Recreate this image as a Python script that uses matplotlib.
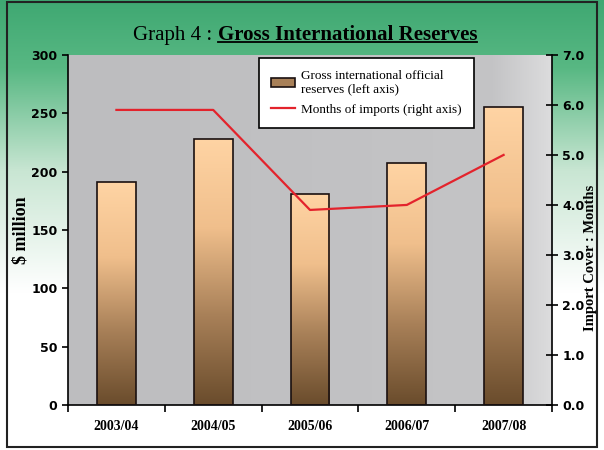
import numpy as np
import matplotlib
matplotlib.use("Agg")
import matplotlib.pyplot as plt
from matplotlib.colors import LinearSegmentedColormap
from matplotlib.patches import Rectangle
from matplotlib.lines import Line2D

# Data
years = ["2003/04", "2004/05", "2005/06", "2006/07", "2007/08"]
reserves = [191, 228, 181, 207, 255]          # $ million (left axis)
months_cover = [5.9, 5.9, 3.9, 4.0, 5.0]      # months of imports (right axis)

serif = "Liberation Serif"

fig = plt.figure(figsize=(6.04, 4.5), dpi=100)

# Figure background: green fading to white, with a dark frame
bg = fig.add_axes([0, 0, 1, 1], zorder=-10)
bg_cmap = LinearSegmentedColormap.from_list(
    "bg", [(0, "#ffffff"), (0.35, "#ffffff"), (0.62, "#c9e6d3"), (0.85, "#58b883"), (1.0, "#3fa872")])
grad = np.linspace(0, 1, 256).reshape(-1, 1)
bg.imshow(grad, cmap=bg_cmap, aspect="auto", origin="lower", extent=[0, 1, 0, 1])
bg.add_patch(Rectangle((0.012, 0.006), 0.976, 0.99, fill=False, lw=1.5,
                       ec="#222222", transform=bg.transAxes))
bg.set_xlim(0, 1)
bg.set_ylim(0, 1)
bg.axis("off")

ax = fig.add_axes([0.1126, 0.1, 0.8013, 0.778])
ax.set_facecolor("none")
x = np.arange(len(years))

# Plot area: grey with a lighter band at the right
area_cmap = LinearSegmentedColormap.from_list(
    "area", [(0, "#bdbdbf"), (0.88, "#c4c4c6"), (1.0, "#dcdcdd")])
ax.imshow(np.linspace(0, 1, 256).reshape(1, -1), cmap=area_cmap, aspect="auto",
          extent=[-0.5, 4.5, 0, 300], zorder=0)

# Bars with a peach-to-brown vertical gradient
bar_cmap = LinearSegmentedColormap.from_list("bar", ["#6a4c2c", "#a88058", "#f0bf8c", "#ffd4a4"])
bars = ax.bar(x, reserves, width=0.4, color="none", edgecolor="#1a1010", lw=1.2, zorder=3)
for b in bars:
    x0, w, h = b.get_x(), b.get_width(), b.get_height()
    im = ax.imshow(np.linspace(0, 1, 256).reshape(-1, 1), cmap=bar_cmap, aspect="auto",
                   origin="lower", extent=[x0, x0 + w, 0, h], zorder=2)
    im.set_clip_path(b)

ax.set_xlim(-0.5, 4.5)
ax.set_ylim(0, 300)
ax.set_yticks(np.arange(0, 301, 50))
ax.set_xticks(np.arange(-0.5, 4.6, 1))
ax.set_xticklabels([])
ax.set_xticks(x, minor=True)
ax.set_xticklabels(years, minor=True, fontsize=10, fontweight="bold", fontfamily=serif)
ax.tick_params(axis="x", which="major", direction="out", length=5, width=1.2)
ax.tick_params(axis="x", which="minor", length=0, pad=11)
ax.tick_params(axis="y", direction="out", length=4, width=1.2, labelsize=9)
for t in ax.get_yticklabels():
    t.set_fontweight("bold")
for s in ["top", "right"]:
    ax.spines[s].set_visible(False)
ax.spines["left"].set_linewidth(1.2)
ax.spines["bottom"].set_linewidth(1.2)
ax.set_ylabel("$ million", fontsize=13, fontweight="bold", fontfamily=serif, labelpad=0)
ax.yaxis.set_label_coords(-0.08, 0.5)

# Right axis: import cover in months
ax2 = ax.twinx()
ax2.plot(x, months_cover, color="#e3232c", lw=1.6, zorder=4)
ax2.set_ylim(0, 7)
ax2.set_yticks(np.arange(0, 7.1, 1))
ax2.set_yticklabels([f"{v:.1f}" for v in np.arange(0, 7.1, 1)], fontsize=9, fontweight="bold")
ax2.tick_params(axis="y", direction="inout", length=8, width=1.2)
for s in ["top", "left", "bottom"]:
    ax2.spines[s].set_visible(False)
ax2.spines["right"].set_linewidth(1.2)
ax2.set_ylabel("Import Cover : Months", fontsize=10.5, fontweight="bold", fontfamily=serif,
               rotation=90, labelpad=0)
ax2.yaxis.set_label_coords(1.067, 0.42)

# Legend
handles = [Rectangle((0, 0), 1, 1, fc="#a88058", ec="#1a1010", lw=1.2),
           Line2D([], [], color="#e3232c", lw=1.6)]
labels = ["Gross international official\nreserves (left axis)", "Months of imports (right axis)"]
leg = ax2.legend(handles, labels, loc="upper left", bbox_to_anchor=(0.381, 1.01),
                 prop={"family": serif, "size": 9.5}, frameon=True, fancybox=False,
                 edgecolor="black", framealpha=1, borderpad=0.9, handlelength=1.8,
                 handletextpad=0.5, labelspacing=0.6)
leg.get_frame().set_linewidth(1.2)

# Title: plain prefix plus bold underlined caption, centred as one line
pre = fig.text(0, 0.922, "Graph 4 : ", ha="left", va="center", fontsize=15, fontfamily=serif)
cap = fig.text(0, 0.922, "Gross International Reserves", ha="left", va="center",
               fontsize=15, fontweight="bold", fontfamily=serif)
fig.canvas.draw()
inv = fig.transFigure.inverted()
w_pre = pre.get_window_extent().transformed(inv).width
w_cap = cap.get_window_extent().transformed(inv).width
start = 0.505 - (w_pre + w_cap) / 2
pre.set_x(start)
cap.set_x(start + w_pre)
fig.canvas.draw()
bb = cap.get_window_extent().transformed(inv)
fig.add_artist(Line2D([bb.x0, bb.x1], [bb.y0 + 0.006, bb.y0 + 0.006], color="black", lw=1.3,
                      transform=fig.transFigure))

fig.savefig("out.png", dpi=100)
